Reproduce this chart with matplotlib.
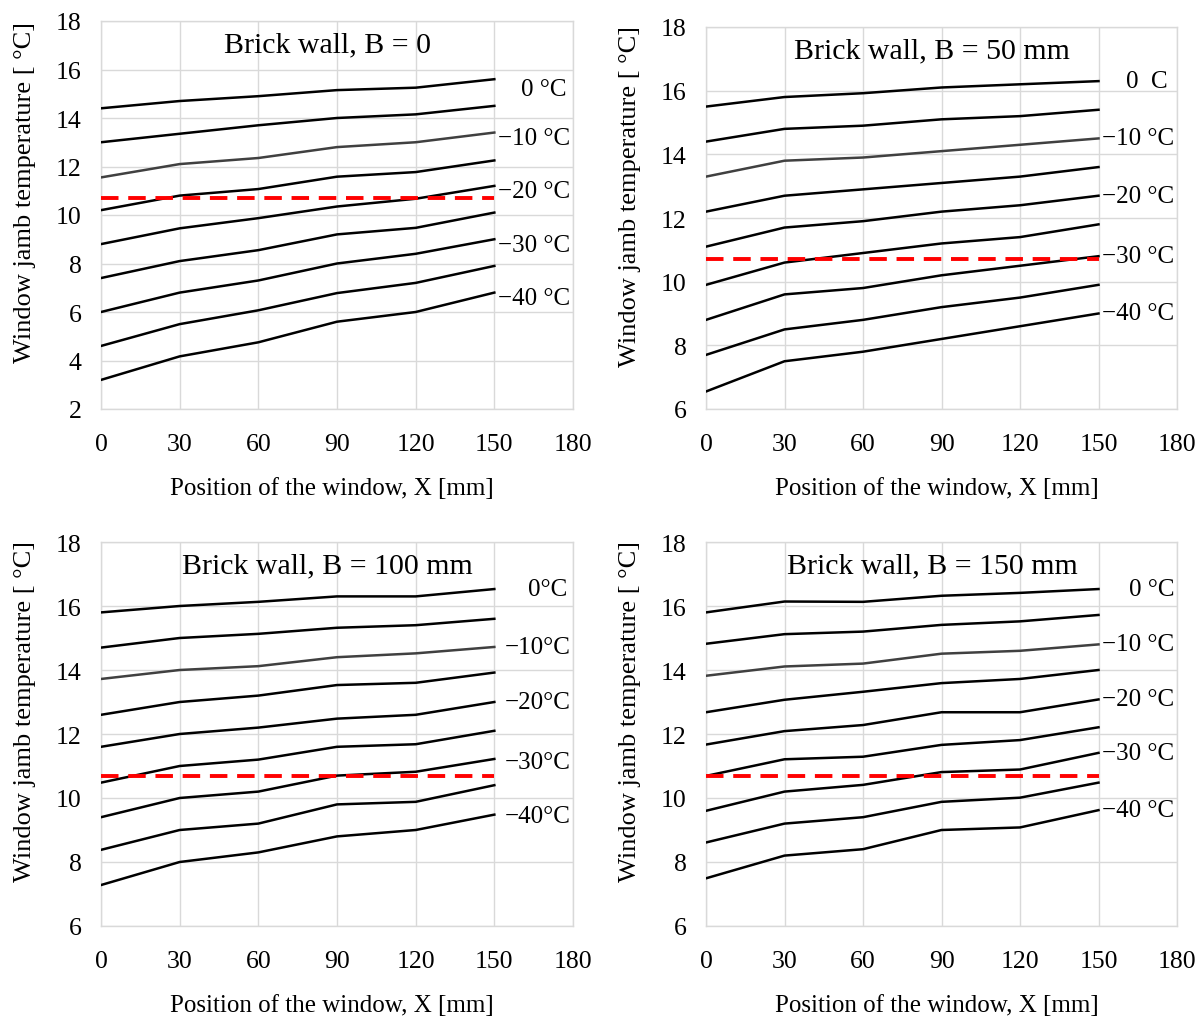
import matplotlib
matplotlib.use("Agg")
import matplotlib.pyplot as plt

plt.rcParams['font.family'] = ['Liberation Serif', 'DejaVu Serif']

# ---------------- data ----------------
x_mm = [0, 30, 60, 90, 120, 150]

# Brick wall, B = 0  (lines from top: 0, -5, -10, ... -40 °C)
temps_b0 = [
    [14.4, 14.7, 14.9, 15.15, 15.25, 15.6],
    [13.0, 13.35, 13.7, 14.0, 14.15, 14.5],
    [11.55, 12.1, 12.35, 12.8, 13.0, 13.4],
    [10.2, 10.8, 11.07, 11.58, 11.77, 12.25],
    [8.8, 9.45, 9.87, 10.35, 10.67, 11.2],
    [7.4, 8.1, 8.55, 9.2, 9.47, 10.1],
    [6.0, 6.8, 7.3, 8.0, 8.4, 9.0],
    [4.6, 5.5, 6.07, 6.78, 7.2, 7.9],
    [3.2, 4.17, 4.75, 5.6, 6.0, 6.8],
]

# Brick wall, B = 50 mm
temps_b50 = [
    [15.5, 15.8, 15.92, 16.1, 16.2, 16.3],
    [14.4, 14.8, 14.9, 15.1, 15.2, 15.4],
    [13.3, 13.8, 13.9, 14.1, 14.3, 14.5],
    [12.2, 12.7, 12.9, 13.1, 13.3, 13.6],
    [11.1, 11.7, 11.9, 12.2, 12.4, 12.7],
    [9.9, 10.6, 10.9, 11.2, 11.4, 11.8],
    [8.8, 9.6, 9.8, 10.2, 10.5, 10.8],
    [7.7, 8.5, 8.8, 9.2, 9.5, 9.9],
    [6.55, 7.5, 7.8, 8.2, 8.6, 9.0],
]

# Brick wall, B = 100 mm
temps_b100 = [
    [15.8, 16.0, 16.13, 16.3, 16.3, 16.53],
    [14.7, 15.0, 15.13, 15.32, 15.4, 15.6],
    [13.72, 14.0, 14.12, 14.4, 14.52, 14.72],
    [12.6, 13.0, 13.2, 13.53, 13.6, 13.92],
    [11.6, 12.0, 12.2, 12.48, 12.6, 13.0],
    [10.48, 11.0, 11.2, 11.6, 11.68, 12.1],
    [9.4, 10.0, 10.2, 10.7, 10.82, 11.22],
    [8.38, 9.0, 9.2, 9.8, 9.88, 10.4],
    [7.28, 8.0, 8.3, 8.8, 9.0, 9.48],
]

# Brick wall, B = 150 mm
temps_b150 = [
    [15.8, 16.14, 16.13, 16.32, 16.41, 16.53],
    [14.82, 15.12, 15.2, 15.41, 15.52, 15.72],
    [13.82, 14.11, 14.2, 14.51, 14.6, 14.8],
    [12.68, 13.07, 13.32, 13.59, 13.72, 14.0],
    [11.67, 12.09, 12.28, 12.68, 12.68, 13.08],
    [10.69, 11.21, 11.29, 11.66, 11.81, 12.21],
    [9.6, 10.2, 10.41, 10.81, 10.89, 11.41],
    [8.61, 9.2, 9.4, 9.88, 10.01, 10.48],
    [7.49, 8.2, 8.4, 9.0, 9.08, 9.62],
]

limit_temp = 10.7  # red dashed criterion line

titles = ["Brick wall, B = 0", "Brick wall, B = 50 mm",
          "Brick wall, B = 100 mm", "Brick wall, B = 150 mm"]

labels_b0 = ["0 °C", "\u221210 °C", "\u221220 °C", "\u221230 °C", "\u221240 °C"]
labels_b50 = ["0  C", "\u221210 °C", "\u221220 °C", "\u221230 °C", "\u221240 °C"]
labels_b100 = ["0°C", "\u221210°C", "\u221220°C", "\u221230°C", "\u221240°C"]
labels_b150 = ["0 °C", "\u221210 °C", "\u221220 °C", "\u221230 °C", "\u221240 °C"]

y_min = [2, 6, 6, 6]
y_max = 18
x_ticks = [0, 30, 60, 90, 120, 150, 180]

x_label = "Position of the window, X [mm]"
y_label = "Window jamb temperature [ °C]"

# ---------------- layout ----------------
W, H = 1200, 1020
fig = plt.figure(figsize=(W / 100, H / 100), dpi=100)

def rect(l, r, t, b):
    return [l / W, 1 - b / H, (r - l) / W, (b - t) / H]

rects = [rect(101, 573, 22, 410), rect(706, 1177, 28, 410),
         rect(101, 573, 543, 927), rect(706, 1177, 543, 927)]
label_dy = [[-7, -4, -4, -4, -4], [0, 0, 0, 0, 0],
            [0, 0, 0, -2, -1], [0, 0, 0, 0, 0]]
label_dx = [[-3, 0, 0, 0, 0], [-5, 0, 0, 0, 0],
            [-2, 0, 0, 0, 0], [0, 0, 0, 0, 0]]

datasets = [temps_b0, temps_b50, temps_b100, temps_b150]
label_sets = [labels_b0, labels_b50, labels_b100, labels_b150]

grid_col = '#d9d9d9'

for i in range(4):
    ax = fig.add_axes(rects[i])
    data = datasets[i]
    for k, series in enumerate(data):
        col = '#404040' if k == 2 else 'black'
        ax.plot(x_mm, series, color=col, lw=1.8, solid_joinstyle='round', zorder=3)
    ax.plot([x_mm[0], x_mm[-1]], [limit_temp, limit_temp], color='#ff0000',
            lw=2.8, dashes=(4.5, 2.5), zorder=4)

    ax.set_xlim(0, 180)
    ax.set_ylim(y_min[i], y_max)
    ax.set_xticks(x_ticks)
    ax.set_yticks(list(range(y_min[i], y_max + 1, 2)))
    ax.grid(True, color=grid_col, lw=1.0)
    ax.set_axisbelow(True)
    for sp in ax.spines.values():
        sp.set_color(grid_col)
        sp.set_linewidth(1.0)
    ax.tick_params(length=0, labelsize=18.5, colors='black')
    ax.tick_params(axis='x', pad=17)
    ax.tick_params(axis='y', pad=14)

    ax.text(0.48, 0.94, titles[i], transform=ax.transAxes, ha='center',
            va='center', fontsize=21.5)

    for j, lab in enumerate(label_sets[i]):
        ax.annotate(lab, xy=(179, data[2 * j][-1]),
                    xytext=(label_dx[i][j], label_dy[i][j]),
                    textcoords='offset points', ha='right', va='center',
                    fontsize=18, annotation_clip=False)

    ax.set_xlabel(x_label, fontsize=18, va='center')
    ax.set_ylabel(y_label, fontsize=19, va='center')
    h_px = rects[i][3] * H
    w_px = rects[i][2] * W
    ax.xaxis.set_label_coords(0.49, -79 / h_px)
    ax.yaxis.set_label_coords(-76 / w_px, 0.56)

fig.savefig("out.png", dpi=100)
